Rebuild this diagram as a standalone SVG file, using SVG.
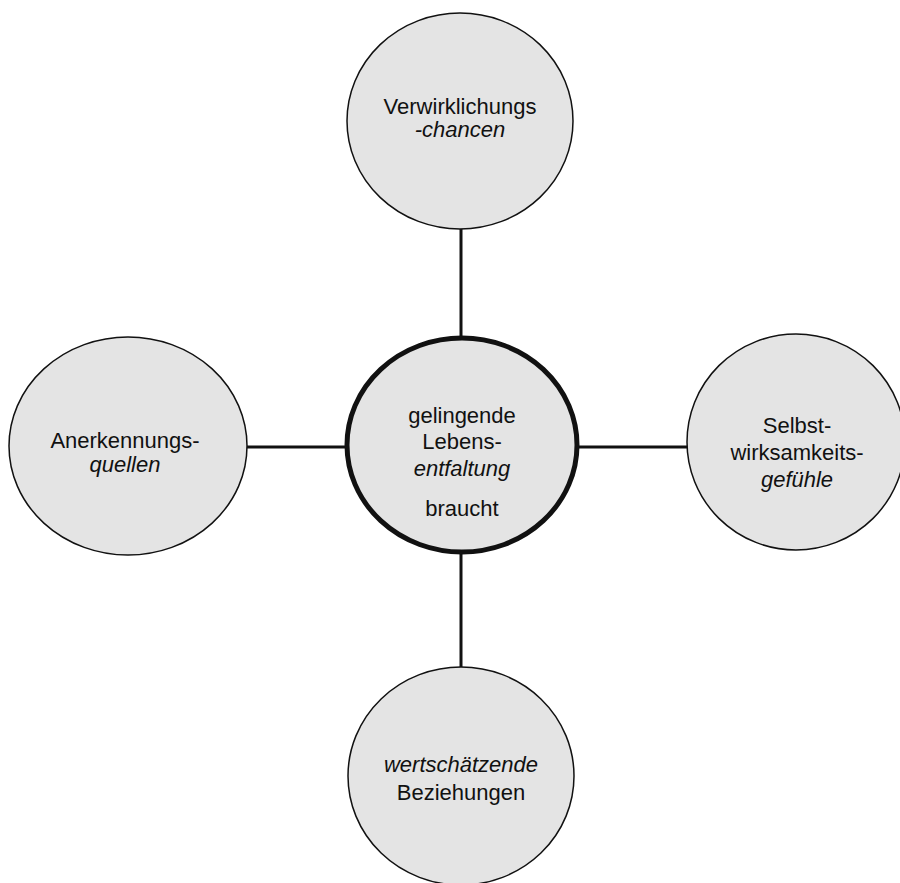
<svg xmlns="http://www.w3.org/2000/svg" width="900" height="883" viewBox="0 0 900 883">
<style>
.n{fill:#e4e4e4;stroke:#111;stroke-width:1.5}
.c{fill:#e4e4e4;stroke:#111;stroke-width:5}
.t{font-family:"Liberation Sans",Arial,sans-serif;font-size:22px;fill:#111;text-anchor:middle}
.i{font-style:italic}
.e{stroke:#111;stroke-width:3;fill:none}
</style>
<rect width="900" height="883" fill="#fff"/>
<g id="connectors">
<line class="e" x1="461" y1="229" x2="461" y2="338"/>
<line class="e" x1="461" y1="552" x2="461" y2="668"/>
<line class="e" x1="246" y1="447" x2="347" y2="447"/>
<line class="e" x1="577" y1="447" x2="688" y2="447"/>
</g>
<g id="top">
<ellipse class="n" cx="460" cy="121" rx="113" ry="108"/>
<text class="t" x="460" y="114">Verwirklichungs</text>
<text class="t i" x="460" y="137">-chancen</text>
</g>
<g id="left">
<ellipse class="n" cx="128" cy="446" rx="119" ry="109"/>
<text class="t" x="125" y="448">Anerkennungs-</text>
<text class="t i" x="125" y="472">quellen</text>
</g>
<g id="right">
<ellipse class="n" cx="796" cy="442" rx="109" ry="108"/>
<text class="t" x="797" y="433">Selbst-</text>
<text class="t" x="797" y="460">wirksamkeits-</text>
<text class="t i" x="797" y="487">gefühle</text>
</g>
<g id="bottom">
<ellipse class="n" cx="461" cy="776" rx="113" ry="109"/>
<text class="t i" x="461" y="772">wertschätzende</text>
<text class="t" x="461" y="800">Beziehungen</text>
</g>
<g id="center">
<ellipse class="c" cx="462" cy="445" rx="115" ry="107"/>
<text class="t" x="462" y="423">gelingende</text>
<text class="t" x="462" y="449">Lebens-</text>
<text class="t i" x="462" y="476">entfaltung</text>
<text class="t" x="462" y="516">braucht</text>
</g>
</svg>
